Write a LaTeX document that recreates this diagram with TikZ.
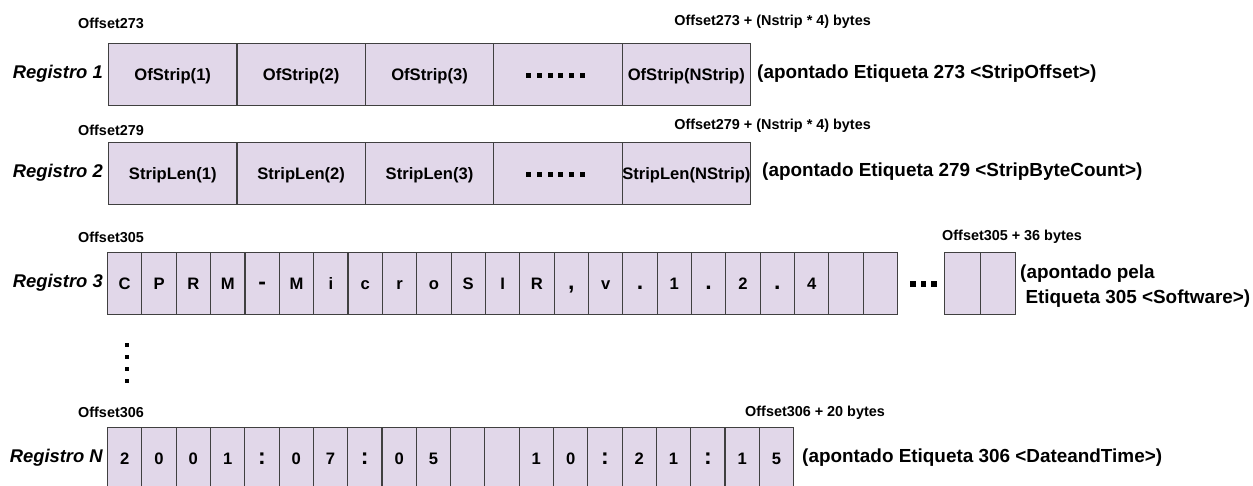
\documentclass[tikz,border=0pt]{standalone}
\usepackage{fontspec}
\setmainfont{Liberation Sans}
\definecolor{cellfill}{HTML}{E1D7E9}
\definecolor{cellline}{HTML}{404040}
\newcommand{\bigpunct}[1]{{\fontsize{23}{24}\selectfont #1}}
\begin{document}
\begin{tikzpicture}[x=1pt,y=-1pt,
  cellbase/.style={draw=cellline, fill=cellfill, line width=1.1pt, minimum height=62pt,
    inner sep=0pt, anchor=north west, text height=11.8pt, text depth=0pt,
    font=\bfseries\fontsize{16.6}{18}\selectfont},
  widecell/.style={cellbase, minimum width=128.4pt},
  bytecell/.style={cellbase, minimum width=34.35pt},
  endcell/.style={cellbase, minimum width=35.5pt},
  reglabel/.style={anchor=east, inner sep=0pt, font=\bfseries\itshape\fontsize{18.4}{20}\selectfont},
  offlabel/.style={inner sep=0pt, font=\bfseries\fontsize{14.4}{15}\selectfont},
  notelabel/.style={anchor=west, inner sep=0pt, font=\bfseries\fontsize{18.9}{25}\selectfont},
  dotsq/.style={fill=black}
]
\useasboundingbox (0,0) rectangle (1253,485);
\clip (0,0) rectangle (1253,485);

% ---------- Registro 1 ----------
\node[reglabel] (reg1) at (103,74) {Registro 1};
\foreach \t [count=\i from 0] in {OfStrip(1),OfStrip(2),OfStrip(3),{},OfStrip(NStrip)}
  \node[widecell] (r1c\i) at (108+\i*128.4,43) {\t};
\node[offlabel, anchor=west] (off273) at (78,23) {Offset273};
\node[offlabel, anchor=east] (off273e) at (871,22) {Offset273 + (Nstrip * 4) bytes};
\node[notelabel] (note1) at (757,74) {(apontado Etiqueta 273 <StripOffset>)};
\foreach \k in {0,...,5}
  \fill[dotsq] ([xshift=-29.5pt+\k*10.8pt, yshift=-1pt]r1c3.center) ++(-2.5,-2.5) rectangle ++(5,5);

% ---------- Registro 2 ----------
\node[reglabel] (reg2) at (103,173) {Registro 2};
\foreach \t [count=\i from 0] in {StripLen(1),StripLen(2),StripLen(3),{},StripLen(NStrip)}
  \node[widecell] (r2c\i) at (108+\i*128.4,142) {\t};
\node[offlabel, anchor=west] (off279) at (78,130) {Offset279};
\node[offlabel, anchor=east] (off279e) at (871,126) {Offset279 + (Nstrip * 4) bytes};
\node[notelabel] (note2) at (762,172) {(apontado Etiqueta 279 <StripByteCount>)};
\foreach \k in {0,...,5}
  \fill[dotsq] ([xshift=-29.5pt+\k*10.8pt, yshift=-0.5pt]r2c3.center) ++(-2.5,-2.5) rectangle ++(5,5);

% ---------- Registro 3 ----------
\node[reglabel] (reg3) at (103,283) {Registro 3};
\foreach \t [count=\i from 0] in {C,P,R,M,\bigpunct{-},M,i,c,r,o,S,I,R,\bigpunct{,},v,\bigpunct{.},1,\bigpunct{.},2,\bigpunct{.},4,{},{}}
  \node[bytecell] (r3c\i) at (107+\i*34.35,252) {\t};
\node[endcell] (r3e1) at (944,252) {};
\node[endcell] (r3e2) at (979.5,252) {};
\foreach \k in {0,1,2}
  \fill[dotsq] (913+\k*10.5,284) ++(-2.7,-2.7) rectangle ++(5.4,5.4);
\node[offlabel, anchor=west] (off305) at (78,237) {Offset305};
\node[offlabel, anchor=west] (off305e) at (942,237) {Offset305 + 36 bytes};
\node[notelabel, align=left, anchor=north west] (note3) at (1020,265)
  {(apontado pela\\\hspace{0.28em}Etiqueta 305 <Software>)};

% ---------- vertical ellipsis ----------
\foreach \k in {0,...,3}
  \fill[dotsq] (127,345+\k*12) ++(-2.4,-2.4) rectangle ++(4.8,4.8);

% ---------- Registro N ----------
\node[reglabel] (regN) at (103,458) {Registro N};
\foreach \t [count=\i from 0] in {2,0,0,1,\bigpunct{:},0,7,\bigpunct{:},0,5,{},{},1,0,\bigpunct{:},2,1,\bigpunct{:},1,5}
  \node[bytecell] (rNc\i) at (107+\i*34.3,427) {\t};
\node[offlabel, anchor=west] (off306) at (78,412) {Offset306};
\node[offlabel, anchor=west] (off306e) at (745,413) {Offset306 + 20 bytes};
\node[notelabel] (noteN) at (802,458) {(apontado Etiqueta 306 <DateandTime>)};
\end{tikzpicture}
\end{document}
